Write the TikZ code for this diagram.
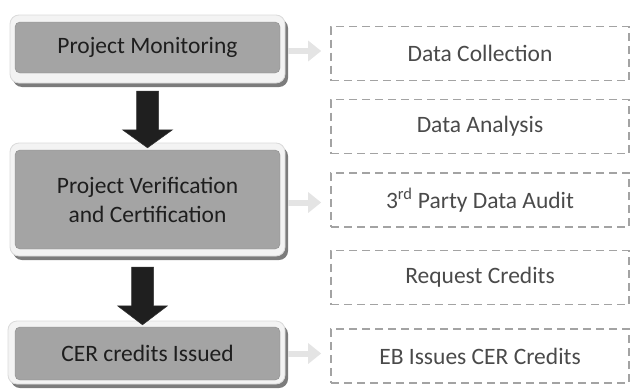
\documentclass[tikz,border=0pt]{standalone}
\usepackage{fontspec}
\setmainfont{Carlito}
\usetikzlibrary{arrows.meta,calc,positioning}
\definecolor{innergray}{HTML}{A4A4A4}
\definecolor{innerline}{HTML}{8C8C8C}
\definecolor{framefill}{HTML}{F3F3F3}
\definecolor{frameline}{HTML}{DADADA}
\definecolor{shadowgray}{HTML}{7C7C7C}
\definecolor{dashgray}{HTML}{A3A3A3}
\definecolor{linkgray}{HTML}{E4E4E4}
\definecolor{lefttext}{HTML}{1E1E1E}
\definecolor{righttext}{HTML}{4A4A4A}
\begin{document}
\begin{tikzpicture}[x=1pt,y=-1pt,
  stagebox/.style={rectangle,rounded corners=5pt,fill=innergray,draw=innerline,line width=0.4pt,
    minimum width=265pt,text=lefttext,font=\fontsize{23.5}{29}\selectfont,align=center,inner sep=0pt},
  taskbox/.style={rectangle,draw=dashgray,line width=1.6pt,dash pattern=on 8pt off 5pt,
    minimum width=298pt,minimum height=54pt,text=righttext,font=\fontsize{23.5}{29}\selectfont,inner sep=0pt},
  linkarrow/.style={draw=linkgray,line width=6pt,-{Triangle[length=13pt,width=20pt]},shorten >=9pt},
  bigarrow/.style={left color=black!88,middle color=black!60,right color=black!88,draw=black!80,line width=0.5pt}
]
\useasboundingbox (0,0) rectangle (631,388);

% frames
\coordinate (f1nw) at (10,15);  \coordinate (f1se) at (285,83);
\coordinate (f2nw) at (10,143); \coordinate (f2se) at (285,256);
\coordinate (f3nw) at (8,321);  \coordinate (f3se) at (285,384);

\foreach \n in {1,2,3}{
  \fill[shadowgray,rounded corners=9pt] ($(f\n nw)+(3,4)$) rectangle ($(f\n se)+(3,4)$);
  \draw[fill=framefill,draw=frameline,line width=0.8pt,rounded corners=9pt] (f\n nw) rectangle (f\n se);
}
\node[inner sep=0pt,minimum width=275pt,minimum height=68pt] (fr1) at ($(f1nw)!0.5!(f1se)$) {};
\node[inner sep=0pt,minimum width=275pt,minimum height=113pt] (fr2) at ($(f2nw)!0.5!(f2se)$) {};
\node[inner sep=0pt,minimum width=277pt,minimum height=63pt] (fr3) at ($(f3nw)!0.5!(f3se)$) {};

% stage boxes
\node[stagebox,minimum height=51pt] (s1) at (147.5,47.5) {\raisebox{-2pt}{Project Monitoring}};
\node[stagebox,minimum height=99pt] (s2) at (147.5,199.5) {Project Verification\\and Certification};
\node[stagebox,minimum height=53pt] (s3) at (147.5,353.5) {CER credits Issued};

% task boxes
\node[taskbox] (t1) at (480,53.5) {Data Collection};
\node[taskbox] (t2) at (480,126.5) {Data Analysis};
\node[taskbox] (t3) at (480,200) {3\textsuperscript{rd} Party Data Audit};
\node[taskbox] (t4) at (480,277.5) {Request Credits};
\node[taskbox] (t5) at (480,356) {EB Issues CER Credits};

% light link arrows
\coordinate (l1s) at ($(fr1.east)+(3,2)$);
\coordinate (l2s) at ($(fr2.east)+(3,3)$);
\coordinate (l3s) at ($(fr3.east)+(3,1)$);
\coordinate (l1e) at (l1s -| t1.west);
\coordinate (l2e) at (l2s -| t3.west);
\coordinate (l3e) at (l3s -| t5.west);
\draw[linkarrow] (l1s) -- (l1e);
\draw[linkarrow] (l2s) -- (l2e);
\draw[linkarrow] (l3s) -- (l3e);

% dark block arrows between stages
\coordinate (a1top) at ($(fr1.south)+(0,8)$);
\coordinate (a1tip) at ($(fr2.north)+(0,5)$);
\coordinate (a2top) at ($(fr2.south)+(0,11)$);
\coordinate (a2tip) at ($(fr3.north)+(-4,4)$);
\shade[bigarrow] let \p1=(a1top), \p2=(a1tip) in
  (\x1-11pt,\y1) -- (\x1+11pt,\y1) -- (\x1+11pt,\y2+18pt) -- (\x1+25pt,\y2+18pt) -- (\x1,\y2)
  -- (\x1-25pt,\y2+18pt) -- (\x1-11pt,\y2+18pt) -- cycle;
\shade[bigarrow] let \p1=(a2top), \p2=(a2tip) in
  (\x2-11pt,\y1) -- (\x2+11pt,\y1) -- (\x2+11pt,\y2+19pt) -- (\x2+25pt,\y2+19pt) -- (\x2,\y2)
  -- (\x2-25pt,\y2+19pt) -- (\x2-11pt,\y2+19pt) -- cycle;
\end{tikzpicture}
\end{document}
